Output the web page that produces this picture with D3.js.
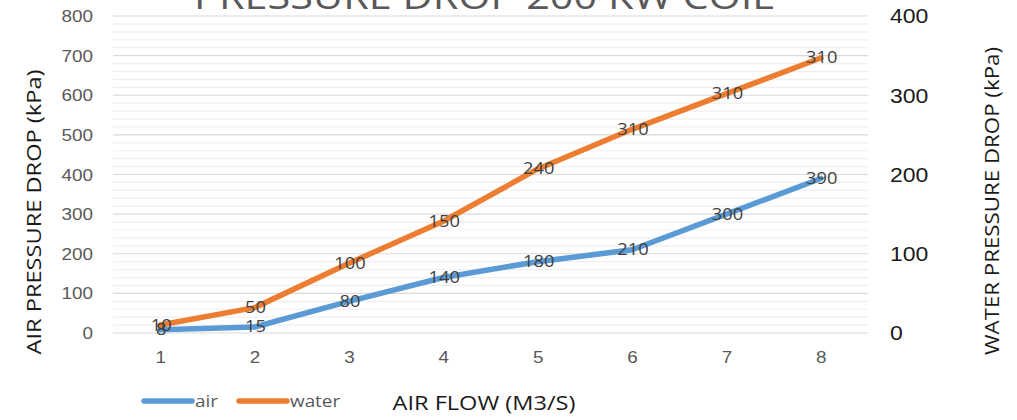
<!DOCTYPE html>
<html>
<head>
    <meta charset="utf-8">
    <title>Pressure Drop 200 KW Coil</title>
    <script src="https://d3js.org/d3.v7.min.js"></script>
    <style>
        body { margin: 0; background: #fff; }
        svg { display: block; font-family: "Open Sans", "Noto Sans", sans-serif; }
    </style>
</head>
<body>
    <div id="chart"></div>
    <script>
        // chart data
        var categories = ["1", "2", "3", "4", "5", "6", "7", "8"];
        var airValues = [8, 15, 80, 140, 180, 210, 300, 390];
        var airLabels = ["8", "15", "80", "140", "180", "210", "300", "390"];
        var waterValues = [10, 32, 88, 141, 207, 257, 302, 347];
        var waterLabels = ["10", "50", "100", "150", "240", "310", "310", "310"];
        var leftTicks = [0, 100, 200, 300, 400, 500, 600, 700, 800];
        var rightTicks = [0, 100, 200, 300, 400];

        var W = 1017, H = 420;
        var margin = { top: 16, right: 149, bottom: 87, left: 113 },
            width = W - margin.left - margin.right,
            height = H - margin.top - margin.bottom;

        // the original text is a bit wider than Open Sans
        var stretch = 1.18;

        var svg = d3.select("#chart").append("svg")
            .attr("width", W)
            .attr("height", H);

        var g = svg.append("g")
            .attr("transform", "translate(" + margin.left + "," + margin.top + ")");

        var x = d3.scalePoint().domain(categories).range([0, width]).padding(0.5);
        var yL = d3.scaleLinear().domain([0, 800]).range([height, 0]);
        var yR = d3.scaleLinear().domain([0, 400]).range([height, 0]);

        // minor gridlines
        g.append("g")
            .selectAll("line")
            .data(d3.range(0, 801, 20).filter(function (v) { return v % 100 !== 0; }))
            .enter().append("line")
            .attr("x1", 0).attr("x2", width)
            .attr("y1", function (d) { return yL(d); })
            .attr("y2", function (d) { return yL(d); })
            .attr("stroke", "#efefef")
            .attr("stroke-width", 1.2);

        // major gridlines
        g.append("g")
            .selectAll("line")
            .data(leftTicks)
            .enter().append("line")
            .attr("x1", 0).attr("x2", width)
            .attr("y1", function (d) { return yL(d); })
            .attr("y2", function (d) { return yL(d); })
            .attr("stroke", "#d9d9d9")
            .attr("stroke-width", 1.2);

        // left axis
        var leftAxis = g.append("g")
            .call(d3.axisLeft(yL).tickValues(leftTicks).tickSize(0).tickPadding(20));
        leftAxis.select(".domain").remove();
        leftAxis.selectAll("text")
            .attr("fill", "#595959")
            .style("font-size", "16px")
            .attr("dy", "0.35em");

        // right axis
        var rightAxis = g.append("g")
            .attr("transform", "translate(" + width + ",0)")
            .call(d3.axisRight(yR).tickValues(rightTicks).tickSize(0).tickPadding(22));
        rightAxis.select(".domain").remove();
        rightAxis.selectAll("text")
            .attr("fill", "#1a1a1a")
            .style("font-size", "19.5px")
            .attr("dy", "0.35em");

        // bottom axis
        var bottomAxis = g.append("g")
            .attr("transform", "translate(0," + height + ")")
            .call(d3.axisBottom(x).tickSize(0).tickPadding(19));
        bottomAxis.select(".domain").remove();
        bottomAxis.selectAll("text")
            .attr("fill", "#595959")
            .style("font-size", "16px");

        // lines
        var lineAir = d3.line()
            .x(function (d, i) { return x(categories[i]); })
            .y(function (d) { return yL(d); });
        var lineWater = d3.line()
            .x(function (d, i) { return x(categories[i]); })
            .y(function (d) { return yR(d); });

        g.append("path")
            .datum(airValues)
            .attr("d", lineAir)
            .attr("fill", "none")
            .attr("stroke", "#5b9bd5")
            .attr("stroke-width", 5.5)
            .attr("stroke-linejoin", "round")
            .attr("stroke-linecap", "round");

        g.append("path")
            .datum(waterValues)
            .attr("d", lineWater)
            .attr("fill", "none")
            .attr("stroke", "#ed7d31")
            .attr("stroke-width", 5.5)
            .attr("stroke-linejoin", "round")
            .attr("stroke-linecap", "round");

        // data labels
        g.append("g").selectAll("text")
            .data(airValues)
            .enter().append("text")
            .attr("x", function (d, i) { return x(categories[i]) + 1; })
            .attr("y", function (d) { return yL(d); })
            .attr("dy", "0.35em")
            .attr("text-anchor", "middle")
            .attr("fill", "#404040")
            .style("font-size", "15.5px")
            .text(function (d, i) { return airLabels[i]; });

        g.append("g").selectAll("text")
            .data(waterValues)
            .enter().append("text")
            .attr("x", function (d, i) { return x(categories[i]) + 1; })
            .attr("y", function (d) { return yR(d); })
            .attr("dy", "0.35em")
            .attr("text-anchor", "middle")
            .attr("fill", "#404040")
            .style("font-size", "15.5px")
            .text(function (d, i) { return waterLabels[i]; });

        // title (cut off at the top)
        svg.append("text")
            .attr("x", 484)
            .attr("y", 9)
            .attr("text-anchor", "middle")
            .attr("fill", "#595959")
            .style("font-size", "35px")
            .attr("textLength", 580)
            .attr("lengthAdjust", "spacingAndGlyphs")
            .text("PRESSURE DROP 200 KW COIL");

        // axis titles
        svg.append("text")
            .attr("transform", "translate(41,212) rotate(-90)")
            .attr("text-anchor", "middle")
            .attr("fill", "#1a1a1a")
            .style("font-size", "20px")
            .attr("textLength", 285)
            .attr("lengthAdjust", "spacingAndGlyphs")
            .text("AIR PRESSURE DROP (kPa)");

        svg.append("text")
            .attr("transform", "translate(999,201) rotate(-90)")
            .attr("text-anchor", "middle")
            .attr("fill", "#1a1a1a")
            .style("font-size", "19.5px")
            .attr("textLength", 308)
            .attr("lengthAdjust", "spacingAndGlyphs")
            .text("WATER PRESSURE DROP (kPa)");

        svg.append("text")
            .attr("x", 484)
            .attr("y", 410)
            .attr("text-anchor", "middle")
            .attr("fill", "#1a1a1a")
            .style("font-size", "20px")
            .attr("textLength", 183)
            .attr("lengthAdjust", "spacingAndGlyphs")
            .text("AIR FLOW (M3/S)");

        // legend
        var legend = [
            { name: "air", color: "#5b9bd5", x: 144 },
            { name: "water", color: "#ed7d31", x: 239 }
        ];
        var lg = svg.append("g").selectAll("g")
            .data(legend)
            .enter().append("g")
            .attr("transform", function (d) { return "translate(" + d.x + ",401)"; });
        lg.append("line")
            .attr("x1", 0).attr("x2", 48)
            .attr("stroke", function (d) { return d.color; })
            .attr("stroke-width", 5.5)
            .attr("stroke-linecap", "round");
        lg.append("text")
            .attr("x", 51)
            .attr("dy", "0.35em")
            .attr("fill", "#595959")
            .style("font-size", "16px")
            .text(function (d) { return d.name; });

        // widen the remaining texts to match the original lettering
        svg.selectAll("text").each(function () {
            if (this.hasAttribute("textLength")) return;
            var len = this.getComputedTextLength();
            d3.select(this)
                .attr("textLength", len * stretch)
                .attr("lengthAdjust", "spacingAndGlyphs");
        });
    </script>
</body>
</html>
